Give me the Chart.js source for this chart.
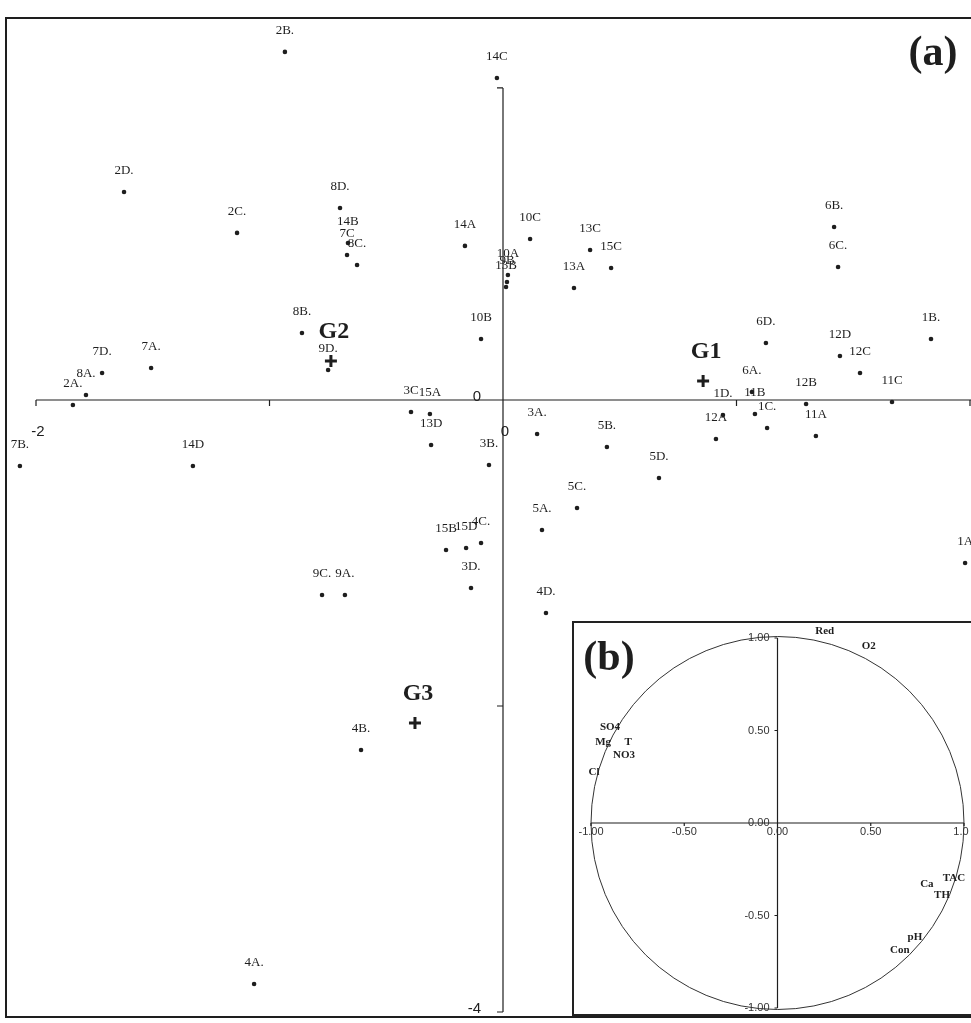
<!DOCTYPE html>
<html>
<head>
<meta charset="utf-8">
<script src="https://cdn.jsdelivr.net/npm/chart.js@4.4.0/dist/chart.umd.min.js"></script>
<style>
  html, body { margin: 0; padding: 0; background: #fff; }
  #wrap { position: relative; width: 971px; height: 1023px; overflow: hidden; }
  #mainChart { position: absolute; left: 0; top: 0; }
  #insetBox { position: absolute; left: 572px; top: 621px; width: 400px; height: 391px;
              background: #fff; border: 2px solid #222; }
  #insetChart { position: absolute; left: 0; top: 0; }
</style>
</head>
<body>
<div id="wrap">
  <canvas id="mainChart" width="971" height="1023"></canvas>
  <div id="insetBox"><canvas id="insetChart" width="395" height="391"></canvas></div>
</div>
<script>
// (a) scores of the samples on the first two axes
const sampleLabels = ['2B.', '14C', '2D.', '2C.', '8D.', '14B', '7C', '8C.', '14A', '10C',
  '13C', '15C', '13A', '10A', '9B', '13B', '8B.', '9D.', '10B', '7D.',
  '8A.', '2A.', '7A.', '7B.', '14D', '3C', '15A', '13D', '3B.', '3A.',
  '5B.', '5D.', '5C.', '5A.', '15B', '15D', '4C.', '3D.', '4D.', '9C.',
  '9A.', '4B.', '4A.', '1A', '1B.', '6B.', '6C.', '6D.', '12D', '12C',
  '11C', '12B', '11A', '6A.', '1D.', '11B', '1C.', '12A'];
const axis1 = [-0.934, -0.026, -1.623, -1.139, -0.698, -0.664, -0.668, -0.625, -0.163, 0.116,
  0.373, 0.463, 0.304, 0.021, 0.017, 0.013, -0.861, -0.749, -0.094, -1.717,
  -1.786, -1.842, -1.507, -2.069, -1.328, -0.394, -0.313, -0.308, -0.060, 0.146,
  0.445, 0.668, 0.317, 0.167, -0.244, -0.158, -0.094, -0.137, 0.184, -0.775,
  -0.677, -0.608, -1.066, 1.979, 1.833, 1.418, 1.435, 1.126, 1.443, 1.529,
  1.666, 1.298, 1.340, 1.066, 0.942, 1.079, 1.131, 0.912];
const axis2 = [2.275, 2.105, 1.359, 1.092, 1.255, 1.026, 0.948, 0.882, 1.007, 1.052,
  0.980, 0.863, 0.732, 0.817, 0.771, 0.739, 0.438, 0.196, 0.399, 0.176,
  0.033, -0.033, 0.209, -0.431, -0.431, -0.078, -0.092, -0.294, -0.425, -0.222,
  -0.307, -0.510, -0.706, -0.850, -0.980, -0.967, -0.935, -1.229, -1.392, -1.275,
  -1.275, -2.288, -3.817, -1.065, 0.399, 1.131, 0.869, 0.373, 0.288, 0.176,
  -0.013, -0.026, -0.235, 0.052, -0.098, -0.092, -0.183, -0.255];

// group centres
const groupLabels = ['G1', 'G2', 'G3'];
const groupX = [0.857, -0.737, -0.377];
const groupY = [0.124, 0.255, -2.111];

// axis ticks of (a)
const xTicks = [-2, -1, 1, 2];
const yTicks = [2.04, -2, -4];
const xTickLabels = ['-2', '0'];
const xTickLabelValues = [-2, 0];
const yTickLabels = ['0', '-4'];
const yTickLabelValues = [0, -4];

// (b) correlation circle
const varLabels = ['Red', 'O2', 'SO4', 'Mg', 'T', 'NO3', 'Cl', 'Ca', 'TAC', 'TH', 'pH', 'Con'];
const varX = [0.253, 0.489, -0.898, -0.935, -0.801, -0.823, -0.984, 0.801, 0.946, 0.882, 0.737, 0.656];
const varY = [1.038, 0.957, 0.516, 0.435, 0.435, 0.366, 0.274, -0.328, -0.296, -0.392, -0.618, -0.688];
const circleTicks = [-1, -0.5, 0, 0.5, 1];
const circleTickLabels = ['-1.00', '-0.50', '0.00', '0.50', '1.00'];

const ink = '#1e1e1e';

// frame, axes, labels of (a)
const mainDecor = {
  id: 'mainDecor',
  afterDatasetsDraw(chart) {
    const { ctx, chartArea: a, scales: { x, y } } = chart;
    const x0 = x.getPixelForValue(0);
    const y0 = y.getPixelForValue(0);
    ctx.save();
    ctx.strokeStyle = ink;
    ctx.lineWidth = 2;
    ctx.beginPath();
    ctx.moveTo(a.right + 5, a.top);
    ctx.lineTo(a.left, a.top);
    ctx.lineTo(a.left, a.bottom);
    ctx.lineTo(a.right + 5, a.bottom);
    ctx.stroke();

    // axes through the origin
    ctx.lineWidth = 1.2;
    ctx.beginPath();
    ctx.moveTo(x.getPixelForValue(-2), y0);
    ctx.lineTo(a.right, y0);
    ctx.moveTo(x0, y.getPixelForValue(yTicks[0]));
    ctx.lineTo(x0, y.getPixelForValue(-4));
    xTicks.forEach(v => {
      const px = x.getPixelForValue(v);
      ctx.moveTo(px, y0);
      ctx.lineTo(px, y0 + 6);
    });
    yTicks.forEach(v => {
      const py = y.getPixelForValue(v);
      ctx.moveTo(x0, py);
      ctx.lineTo(x0 - 6, py);
    });
    ctx.stroke();

    ctx.fillStyle = ink;
    ctx.font = '15px "Liberation Sans"';
    ctx.textAlign = 'center';
    ctx.textBaseline = 'middle';
    xTickLabels.forEach((t, i) => {
      ctx.fillText(t, x.getPixelForValue(xTickLabelValues[i]) + 2, y0 + 32);
    });
    ctx.textAlign = 'right';
    yTickLabels.forEach((t, i) => {
      ctx.fillText(t, x0 - 22, y.getPixelForValue(yTickLabelValues[i]) - 3);
    });

    // sample names
    ctx.font = '13px "Liberation Serif"';
    ctx.textAlign = 'center';
    const pts = chart.getDatasetMeta(0).data;
    pts.forEach((p, i) => {
      ctx.fillText(sampleLabels[i], p.x, p.y - 21);
    });

    // group names
    ctx.font = 'bold 24px "Liberation Serif"';
    chart.getDatasetMeta(1).data.forEach((p, i) => {
      ctx.fillText(groupLabels[i], p.x + 3, p.y - 29);
    });

    ctx.font = 'bold 42px "Liberation Serif"';
    ctx.fillText('(a)', a.right - 38, a.top + 36);
    ctx.restore();
  }
};

new Chart(document.getElementById('mainChart'), {
  type: 'scatter',
  data: {
    datasets: [
      {
        data: axis1.map((v, i) => ({ x: v, y: axis2[i] })),
        pointRadius: 2.3,
        backgroundColor: ink,
        borderWidth: 0
      },
      {
        data: groupX.map((v, i) => ({ x: v, y: groupY[i] })),
        pointStyle: 'cross',
        pointRadius: 6,
        borderWidth: 3,
        borderColor: ink
      }
    ]
  },
  options: {
    responsive: false,
    animation: false,
    events: [],
    layout: { autoPadding: false, padding: { left: 6, top: 18, right: 0, bottom: 6 } },
    scales: {
      x: { type: 'linear', min: -2.1285, max: 2.0043, display: false },
      y: { type: 'linear', min: -4.0327, max: 2.4967, display: false }
    },
    plugins: {
      legend: { display: false },
      tooltip: { enabled: false }
    }
  },
  plugins: [mainDecor]
});

// circle, axes and names of (b)
const circleDecor = {
  id: 'circleDecor',
  afterDatasetsDraw(chart) {
    const { ctx, chartArea: a, scales: { x, y } } = chart;
    const x0 = x.getPixelForValue(0);
    const y0 = y.getPixelForValue(0);
    const r = x.getPixelForValue(1) - x0;
    ctx.save();
    ctx.strokeStyle = '#333';
    ctx.lineWidth = 1;
    ctx.beginPath();
    ctx.arc(x0, y0, r, 0, Math.PI * 2);
    ctx.stroke();

    ctx.strokeStyle = ink;
    ctx.lineWidth = 1.2;
    ctx.beginPath();
    ctx.moveTo(x.getPixelForValue(-1), y0);
    ctx.lineTo(x.getPixelForValue(1), y0);
    ctx.moveTo(x0, y.getPixelForValue(1));
    ctx.lineTo(x0, y.getPixelForValue(-1));
    circleTicks.forEach(v => {
      const px = x.getPixelForValue(v);
      ctx.moveTo(px, y0);
      ctx.lineTo(px, y0 + 3);
      const py = y.getPixelForValue(v);
      ctx.moveTo(x0, py);
      ctx.lineTo(x0 - 3, py);
    });
    ctx.stroke();

    ctx.fillStyle = '#333';
    ctx.font = '11px "Liberation Sans"';
    ctx.textBaseline = 'middle';
    ctx.textAlign = 'center';
    circleTicks.forEach((v, i) => {
      ctx.fillText(circleTickLabels[i], x.getPixelForValue(v), y0 + 9);
    });
    ctx.textAlign = 'right';
    circleTicks.forEach((v, i) => {
      ctx.fillText(circleTickLabels[i], x0 - 8, y.getPixelForValue(v));
    });

    ctx.fillStyle = ink;
    ctx.font = 'bold 11px "Liberation Serif"';
    ctx.textAlign = 'center';
    chart.getDatasetMeta(0).data.forEach((p, i) => {
      ctx.fillText(varLabels[i], p.x, p.y);
    });

    ctx.font = 'bold 42px "Liberation Serif"';
    ctx.fillText('(b)', a.left + 18, a.top + 21);
    ctx.restore();
  }
};

new Chart(document.getElementById('insetChart'), {
  type: 'scatter',
  data: {
    datasets: [{
      data: varX.map((v, i) => ({ x: v, y: varY[i] })),
      pointRadius: 0
    }]
  },
  options: {
    responsive: false,
    animation: false,
    events: [],
    layout: { autoPadding: false, padding: { left: 17, top: 15, right: 5, bottom: 6 } },
    scales: {
      x: { type: 'linear', min: -1, max: 1, display: false },
      y: { type: 'linear', min: -1, max: 1, display: false }
    },
    plugins: {
      legend: { display: false },
      tooltip: { enabled: false }
    }
  },
  plugins: [circleDecor]
});
</script>
</body>
</html>
